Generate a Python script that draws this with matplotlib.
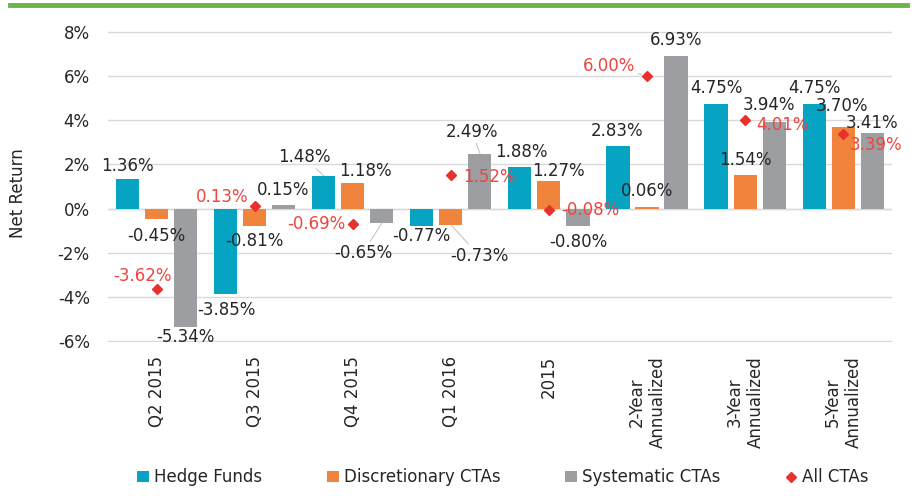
import matplotlib.pyplot as plt
import numpy as np
from matplotlib.lines import Line2D

plt.rcParams['font.family'] = ['DejaVu Sans']

# data (net return, %)
categories = ['Q2 2015', 'Q3 2015', 'Q4 2015', 'Q1 2016', '2015',
              '2-Year\nAnnualized', '3-Year\nAnnualized', '5-Year\nAnnualized']
hedge_funds = [1.36, -3.85, 1.48, -0.77, 1.88, 2.83, 4.75, 4.75]
discretionary = [-0.45, -0.81, 1.18, -0.73, 1.27, 0.06, 1.54, 3.70]
systematic = [-5.34, 0.15, -0.65, 2.49, -0.80, 6.93, 3.94, 3.41]
all_ctas = [-3.62, 0.13, -0.69, 1.52, -0.08, 6.00, 4.01, 3.39]
yticks = [-6, -4, -2, 0, 2, 4, 6, 8]

# colours
c_hf = '#06A3C3'
c_disc = '#F0843D'
c_sys = '#9D9EA1'
c_all = '#E8312F'
c_all_txt = '#F0443F'
c_txt = '#262626'
c_grid = '#D9D9D9'

# label offsets in pixels (dx right, dy down), as dragged around in the original
off_hf = [(0, -13), (1, 16), (-20, -19), (-1, 10), (1, -15), (-1, -15), (0, -16), (0, -16)]
off_disc = [(0, 17), (0, 15), (13, -12), (28, 31), (9, -10), (0, -16), (0, -15), (-1, -21)]
off_sys = [(0, 10), (-1, -15), (-19, 30), (-8, -22), (0, 16), (0, -16), (-5, -17), (0, -10)]
off_all = [(-14, -13), (-33, -9), (-37, 0), (38, 2), (41, 0), (-38, -10), (37, 5), (33, 11)]
# which labels have a leader line
lead_hf = [False, False, True, False, False, False, False, False]
lead_disc = [False, False, False, True, False, False, False, False]
lead_sys = [False, False, True, True, False, False, False, False]
lead_all = [False, False, False, False, False, True, False, False]

fig = plt.figure(figsize=(9.14, 4.99), dpi=100)
ax = fig.add_axes([0.118, 0.3146, 0.858, 0.6233])

x = np.arange(len(categories))
w = 0.235
step = 0.296

series = [
    (hedge_funds, c_hf, 'Hedge Funds', -step, off_hf, lead_hf),
    (discretionary, c_disc, 'Discretionary CTAs', 0, off_disc, lead_disc),
    (systematic, c_sys, 'Systematic CTAs', step, off_sys, lead_sys),
]

handles = []
for vals, col, name, shift, offs, leads in series:
    b = ax.bar(x + shift, vals, width=w, color=col, zorder=2, label=name)
    handles.append(b)
    for xi, v, (dx, dy), ld in zip(x + shift, vals, offs, leads):
        arrow = None
        if ld:
            arrow = dict(arrowstyle='-', color='#BFBFBF', lw=0.7, shrinkA=0, shrinkB=0)
        ax.annotate('%.2f%%' % v, xy=(xi, v), xytext=(dx, -dy),
                    textcoords='offset pixels', ha='center', va='center',
                    fontsize=12, color=c_txt, zorder=4, arrowprops=arrow)

dm, = ax.plot(x, all_ctas, linestyle='none', marker='D', markersize=5.5,
              color=c_all, zorder=3, label='All CTAs')
handles.append(dm)
for xi, v, (dx, dy), ld in zip(x, all_ctas, off_all, lead_all):
    arrow = None
    if ld:
        arrow = dict(arrowstyle='-', color='#BFBFBF', lw=0.7, shrinkA=0, shrinkB=4)
    ax.annotate('%.2f%%' % v, xy=(xi, v), xytext=(dx, -dy),
                textcoords='offset pixels', ha='center', va='center',
                fontsize=12, color=c_all_txt, zorder=4, arrowprops=arrow)

ax.set_xlim(-0.5, len(categories) - 0.5)
ax.set_ylim(-6.04, 8.04)
ax.set_yticks(yticks)
ax.set_yticklabels(['%d%%' % t for t in yticks], fontsize=12, color=c_txt)
ax.yaxis.grid(True, color=c_grid, lw=1.0, zorder=0)
ax.set_axisbelow(True)
ax.tick_params(axis='y', length=0, pad=13)
ax.set_xticks(x)
ax.set_xticklabels(categories, rotation=90, fontsize=12, color=c_txt,
                   va='top', ha='center', multialignment='center')
ax.tick_params(axis='x', length=0, pad=10)
for s in ax.spines.values():
    s.set_visible(False)
ax.axhline(0, color=c_grid, lw=1.0, zorder=1)

ax.set_ylabel('Net Return', fontsize=12, color=c_txt, labelpad=12)
ax.yaxis.set_label_coords(-0.103, 0.48)

fig.legend(handles=handles, loc='lower center', bbox_to_anchor=(0.55, -0.005),
           ncol=4, frameon=False, fontsize=12, handlelength=0.7, handleheight=0.7,
           handletextpad=0.3, columnspacing=3.9, labelcolor=c_txt)

# green rule across the top
fig.add_artist(Line2D([0.011, 0.992], [0.99, 0.99], color='#6AB546', lw=3.5,
                      transform=fig.transFigure))

fig.savefig('out.png', dpi=100)
